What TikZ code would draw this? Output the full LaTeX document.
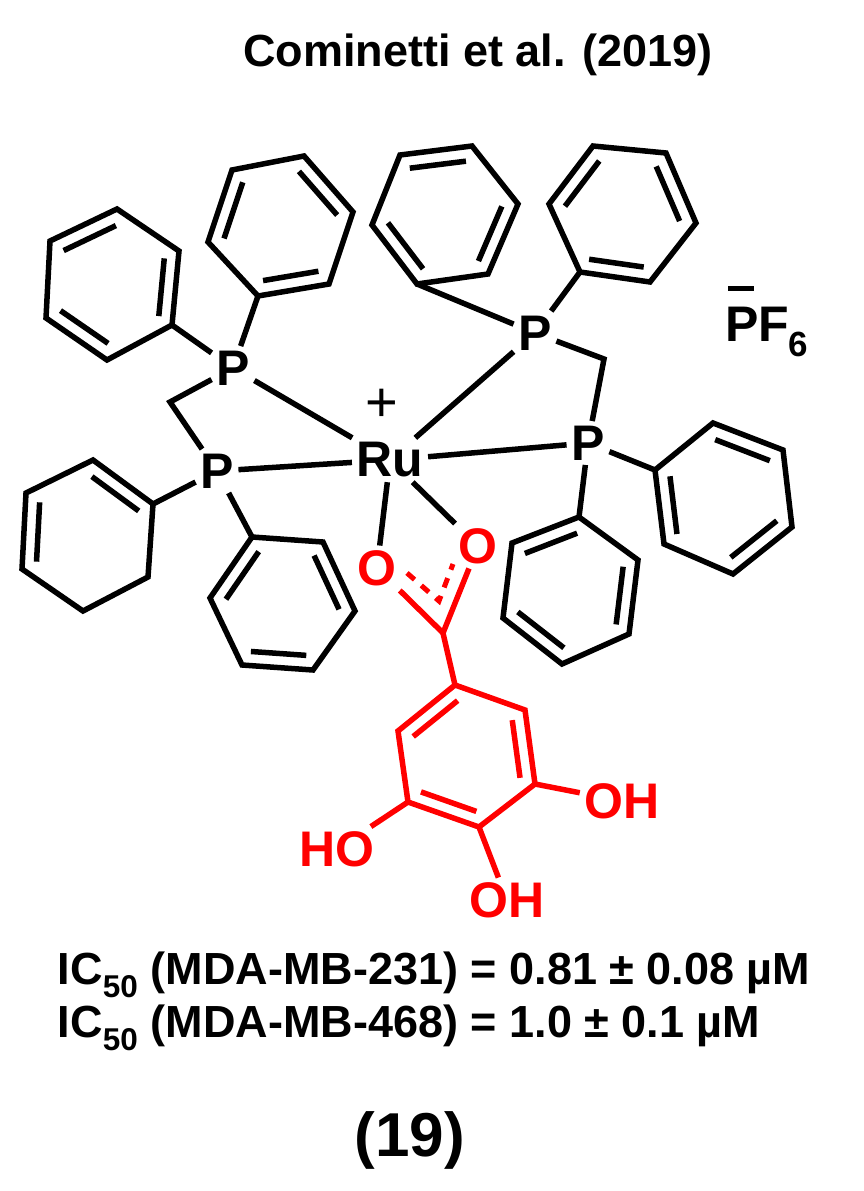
\documentclass[tikz,border=0pt]{standalone}
\usepackage{fontspec}
\setmainfont{Liberation Sans}
\usetikzlibrary{calc}
\begin{document}
\begin{tikzpicture}[x=1pt,y=-1pt,line width=5.5pt,line join=miter,
  atom/.style={font=\fontsize{50}{50}\selectfont\bfseries,inner sep=2pt},
  ratom/.style={atom,text=red},
  txt/.style={font=\fontsize{45}{48}\selectfont\bfseries,inner sep=0pt}]
\useasboundingbox (0,0) rectangle (863,1191);
\newcommand\ring[7]{%
 \coordinate (#11) at #2; \coordinate (#12) at #3; \coordinate (#13) at #4;
 \coordinate (#14) at #5; \coordinate (#15) at #6; \coordinate (#16) at #7;
 \coordinate (#1c) at ($(#11)!0.5!(#14)$);
 \draw (#11)--(#12)--(#13)--(#14)--(#15)--(#16)--cycle;}
\newcommand\dbl[3]{\draw ($(#1)!0.22!(#3c)$) -- ($(#2)!0.22!(#3c)$);}
% rings
\ring{A}{(304,156)}{(353,212)}{(329,284)}{(258,296)}{(208,242)}{(232,170)}
\dbl{A1}{A2}{A}\dbl{A3}{A4}{A}\dbl{A5}{A6}{A}
\ring{B}{(117,209)}{(179,251)}{(172,325)}{(107,360)}{(46,318)}{(50,241)}
\dbl{B6}{B1}{B}\dbl{B2}{B3}{B}\dbl{B4}{B5}{B}
\ring{C}{(93,460)}{(153,504)}{(148,577)}{(83,611)}{(22,569)}{(26,493)}
\dbl{C1}{C2}{C}\dbl{C5}{C6}{C}
\ring{D}{(252,537)}{(323,542)}{(355,611)}{(313,670)}{(242,665)}{(210,598)}
\dbl{D6}{D1}{D}\dbl{D2}{D3}{D}\dbl{D4}{D5}{D}
\ring{E}{(472,146)}{(518,204)}{(488,274)}{(417,284)}{(372,225)}{(400,155)}
\dbl{E6}{E1}{E}\dbl{E2}{E3}{E}\dbl{E4}{E5}{E}
\ring{F}{(593,146)}{(666,153)}{(696,223)}{(650,282)}{(580,272)}{(549,204)}
\dbl{F6}{F1}{F}\dbl{F2}{F3}{F}\dbl{F4}{F5}{F}
\ring{G}{(713,423)}{(783,450)}{(792,527)}{(733,574)}{(664,544)}{(655,470)}
\dbl{G1}{G2}{G}\dbl{G3}{G4}{G}\dbl{G5}{G6}{G}
\ring{H}{(579,517)}{(638,560)}{(629,634)}{(562,664)}{(503,618)}{(512,543)}
\dbl{H6}{H1}{H}\dbl{H2}{H3}{H}\dbl{H4}{H5}{H}
% atoms
\node[atom] (P1) at (233,368) {P};
\node[atom] (P2) at (217,471) {P};
\node[atom] (P3) at (535,333) {P};
\node[atom] (P4) at (588,443) {P};
\node[atom] (Ru) at (390,460) {Ru};
\node[inner sep=0pt,font=\fontsize{56}{56}\selectfont] (plus) at (382,405) {+};
\coordinate (CL) at (170,402);
\coordinate (CR) at (604,359);
\draw (A4)--(P1); \draw (B3)--(P1);
\draw (P1)--(CL)--(P2);
\draw (C2)--(P2); \draw (D1)--(P2);
\draw (E4)--(P3); \draw (F5)--(P3);
\draw (P3)--(CR)--(P4);
\draw (G6)--(P4); \draw (H1)--(P4);
\draw (Ru)--(P1); \draw (Ru)--(P2); \draw (Ru)--(P3); \draw (Ru)--(P4);
% PF6
\node[atom] (pf) at (767,332) {PF\textsubscript{6}};
\node[inner sep=0pt] (minus) at (741,288) {\rule{26pt}{5pt}};
% gallate
\begin{scope}[red]
\node[ratom] (O1) at (377,568) {O};
\node[ratom] (O2) at (478,546) {O};
\coordinate (Cc) at (443,633);
\draw (O1)--(Cc)--(O2);
\draw[line width=5pt,dash pattern=on 10pt off 9pt] (407,573)--(439,601)--(453,564);
\ring{R}{(455,685)}{(525,710)}{(535,784)}{(479,827)}{(408,802)}{(398,731)}
\dbl{R6}{R1}{R}\dbl{R2}{R3}{R}\dbl{R4}{R5}{R}
\draw (Cc)--(R1);
\node[ratom] (OH1) at (622,801) {OH};
\node[ratom] (OH2) at (337,849) {HO};
\node[ratom] (OH3) at (507,900) {OH};
\draw (R3)--(OH1);
\draw (R5)--(OH2);
\draw (R4)--(OH3);
\end{scope}
\draw (Ru)--(O1); \draw (Ru)--(O2);
% texts
\node[txt] (title) at (478,55) {Cominetti et al. (2019)};
\node[txt,anchor=west] (ic1) at (55,975) {IC\textsubscript{50} (MDA-MB-231) = 0.81 ± 0.08 µM};
\node[txt,anchor=west] (ic2) at (55,1028) {IC\textsubscript{50} (MDA-MB-468) = 1.0 ± 0.1 µM};
\node[txt,font=\fontsize{62}{62}\selectfont\bfseries] (num) at (410,1140) {(19)};
\end{tikzpicture}
\end{document}
